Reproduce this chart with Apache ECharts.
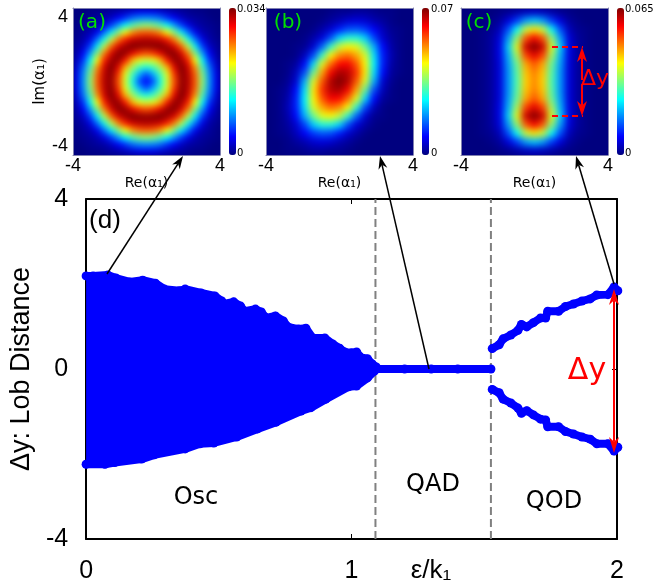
<!DOCTYPE html>
<html>
<head>
<meta charset="utf-8">
<script src="https://cdn.jsdelivr.net/npm/echarts@6/dist/echarts.min.js"></script>
<style>
html,body{margin:0;padding:0;background:#fff;}
#page{position:relative;width:654px;height:584px;overflow:hidden;}
.clip{position:absolute;overflow:hidden;top:8px;width:147px;height:147px;}
.heat{position:absolute;left:-20px;top:-20px;width:187px;height:187px;}
#main{position:absolute;left:0;top:0;width:654px;height:584px;}
</style>
</head>
<body>
<div id="page">
  <div class="clip" style="left:73px"><div class="heat" id="ha" style="filter:blur(3px)"></div></div>
  <div class="clip" style="left:266px"><div class="heat" id="hb" style="filter:blur(3.5px)"></div></div>
  <div class="clip" style="left:461px"><div class="heat" id="hc" style="filter:blur(3.5px)"></div></div>
  <div id="main"></div>
</div>
<script>
// Phase diagram data (eps/k1, dy)
const oscUpper = [[0,2.19],[0.026,2.19],[0.082,2.21],[0.112,2.14],[0.164,2.05],[0.213,2.09],[0.261,2.02],[0.295,1.88],[0.351,1.84],[0.373,1.88],[0.433,1.79],[0.485,1.72],[0.511,1.60],[0.519,1.53],[0.556,1.58],[0.582,1.48],[0.597,1.36],[0.638,1.41],[0.66,1.34],[0.679,1.20],[0.713,1.25],[0.743,1.13],[0.761,0.99],[0.799,0.94],[0.828,0.96],[0.854,0.73],[0.899,0.73],[0.929,0.59],[0.955,0.49],[0.974,0.40],[1.0,0.38],[1.019,0.40],[1.034,0.28],[1.06,0.24],[1.078,0.12],[1.093,0.05]];
const oscLower = [[0,-2.24],[0.071,-2.24],[0.108,-2.20],[0.209,-2.12],[0.257,-2.02],[0.373,-1.88],[0.429,-1.76],[0.481,-1.74],[0.567,-1.60],[0.646,-1.41],[0.716,-1.25],[0.81,-0.99],[0.847,-0.91],[0.903,-0.71],[0.989,-0.42],[1.019,-0.40],[1.06,-0.21],[1.086,-0.05]];
const qadLine = [[1.09,0],[1.2,0],[1.3,0],[1.4,0],[1.525,0]];
const qodUpper = [[1.53,0.48],[1.556,0.57],[1.571,0.71],[1.60,0.80],[1.627,0.91],[1.64,1.05],[1.66,0.99],[1.685,1.09],[1.712,1.20],[1.731,1.20],[1.739,1.36],[1.78,1.36],[1.806,1.47],[1.836,1.53],[1.868,1.60],[1.899,1.65],[1.924,1.74],[1.966,1.75],[1.989,1.93],[2.003,1.84]];
const qodLower = [[1.53,-0.48],[1.556,-0.56],[1.571,-0.71],[1.60,-0.80],[1.627,-0.92],[1.64,-1.04],[1.66,-0.98],[1.685,-1.08],[1.712,-1.18],[1.731,-1.20],[1.739,-1.36],[1.78,-1.36],[1.806,-1.47],[1.836,-1.53],[1.868,-1.60],[1.899,-1.65],[1.924,-1.76],[1.966,-1.76],[1.989,-1.93],[2.003,-1.84]];
const boundaries = [1.09, 1.525];
const xTickLabels = ['0','1','2'];
const colorbarMax = ['0.034','0.07','0.065'];
// Wigner-type density maps, % of panel's maximum, rows top to bottom
const heatA = [
[0,0,1,1,2,3,4,6,8,10,10,10,8,6,4,3,2,1,1,0,0],
[0,1,2,3,4,7,12,17,23,26,27,26,23,17,12,7,4,3,2,1,0],
[1,2,3,5,10,18,28,38,45,50,52,50,45,38,28,18,10,5,3,2,1],
[1,3,5,11,23,36,50,62,73,78,79,78,73,62,50,36,23,11,5,3,1],
[2,4,10,23,39,56,75,85,92,94,95,94,92,85,75,56,39,23,10,4,2],
[3,7,18,36,56,78,91,97,100,99,98,99,100,97,91,78,56,36,18,7,3],
[4,12,28,50,75,91,99,98,90,83,80,83,90,98,99,91,75,50,28,12,4],
[6,17,38,62,85,97,98,86,70,60,58,60,70,86,98,97,85,62,38,17,6],
[8,23,45,73,92,100,90,70,54,44,40,44,54,70,90,100,92,73,45,23,8],
[10,26,50,78,94,99,83,60,44,30,20,30,44,60,83,99,94,78,50,26,10],
[10,27,52,79,95,98,80,58,40,20,12,20,40,58,80,98,95,79,52,27,10],
[10,26,50,78,94,99,83,60,44,30,20,30,44,60,83,99,94,78,50,26,10],
[8,23,45,73,92,100,90,70,54,44,40,44,54,70,90,100,92,73,45,23,8],
[6,17,38,62,85,97,98,86,70,60,58,60,70,86,98,97,85,62,38,17,6],
[4,12,28,50,75,91,99,98,90,83,80,83,90,98,99,91,75,50,28,12,4],
[3,7,18,36,56,78,91,97,100,99,98,99,100,97,91,78,56,36,18,7,3],
[2,4,10,23,39,56,75,85,92,94,95,94,92,85,75,56,39,23,10,4,2],
[1,3,5,11,23,36,50,62,73,78,79,78,73,62,50,36,23,11,5,3,1],
[1,2,3,5,10,18,28,38,45,50,52,50,45,38,28,18,10,5,3,2,1],
[0,1,2,3,4,7,12,17,23,26,27,26,23,17,12,7,4,3,2,1,0],
[0,0,1,1,2,3,4,6,8,10,10,10,8,6,4,3,2,1,1,0,0]];
const heatB = [
[0,0,0,0,0,0,0,1,2,2,3,3,2,1,1,0,0],
[0,0,0,0,0,0,1,3,5,8,9,8,5,3,1,0,0],
[0,0,0,0,0,1,4,8,15,20,21,18,12,6,2,1,0],
[0,0,0,0,1,4,9,20,34,41,41,33,19,8,3,1,0],
[0,0,0,1,2,8,22,42,57,63,60,48,30,13,4,1,0],
[0,0,0,1,6,19,42,63,74,77,71,59,35,15,5,1,0],
[0,0,1,3,13,34,60,77,87,88,79,63,37,15,4,1,0],
[0,0,1,6,20,48,71,88,96,94,83,64,35,13,3,1,0],
[0,0,2,8,30,59,79,95,100,95,79,59,30,8,2,0,0],
[0,1,3,13,35,64,83,94,96,88,71,48,20,6,1,0,0],
[0,1,4,15,37,63,79,88,87,77,60,34,13,3,1,0,0],
[0,1,5,15,35,59,71,77,74,63,42,19,6,1,0,0,0],
[0,1,4,13,30,48,60,63,57,42,22,8,2,1,0,0,0],
[0,1,3,8,19,33,41,41,34,20,9,4,1,0,0,0,0],
[0,1,2,6,12,18,21,20,15,8,4,1,0,0,0,0,0],
[0,0,1,3,5,8,9,8,5,3,1,0,0,0,0,0,0],
[0,0,1,1,2,3,3,2,2,1,0,0,0,0,0,0,0]];
const heatC = [
[0,0,0,0,1,2,4,6,7,6,4,2,1,0,0,0,0],
[0,0,0,1,3,9,18,28,32,28,18,9,3,1,0,0,0],
[0,0,1,2,6,20,38,57,65,57,38,20,6,2,1,0,0],
[0,0,1,3,9,28,52,79,88,79,52,28,9,3,1,0,0],
[0,0,1,3,10,33,60,92,100,92,60,33,10,3,1,0,0],
[0,0,1,3,10,30,54,81,90,81,54,30,10,3,1,0,0],
[0,0,1,3,9,28,48,71,79,71,48,28,9,3,1,0,0],
[0,0,1,3,9,27,46,68,75,68,46,27,9,3,1,0,0],
[0,0,1,3,9,27,45,67,74,67,45,27,9,3,1,0,0],
[0,0,1,3,9,27,46,68,75,68,46,27,9,3,1,0,0],
[0,0,1,3,9,28,48,71,79,71,48,28,9,3,1,0,0],
[0,0,1,3,10,30,54,81,90,81,54,30,10,3,1,0,0],
[0,0,1,3,10,33,60,92,100,92,60,33,10,3,1,0,0],
[0,0,1,3,9,28,52,79,88,79,52,28,9,3,1,0,0],
[0,0,1,2,6,20,38,57,65,57,38,20,6,2,1,0,0],
[0,0,0,1,3,9,18,28,32,28,18,9,3,1,0,0,0],
[0,0,0,0,1,2,4,6,7,6,4,2,1,0,0,0,0]];

const JET = ['#00007f','#0000ff','#007fff','#00ffff','#7fff7f','#ffff00','#ff7f00','#ff0000','#7f0000'];
const BLUE = '#0000ff', RED = '#ff0000', GREEN = '#00e000';
const SANS = 'Liberation Sans', DJ = 'DejaVu Sans';

function drawHeat(id, rows){
  const n = rows.length, cats = rows.map((_, i) => i), d = [];
  rows.forEach((r, j) => r.forEach((v, i) => d.push([i, j, v])));
  const c = echarts.init(document.getElementById(id), null, {renderer:'canvas'});
  c.setOption({
    animation:false, backgroundColor:'#00007f',
    grid:{left:20,right:20,top:20,bottom:20},
    xAxis:{type:'category',data:cats,show:false},
    yAxis:{type:'category',data:cats,show:false,inverse:true},
    visualMap:{show:false,min:0,max:100,inRange:{color:JET}},
    series:[{type:'heatmap',data:d,progressive:0,itemStyle:{borderWidth:0}}]
  });
}
drawHeat('ha', heatA); drawHeat('hb', heatB); drawHeat('hc', heatC);

function arrow(x1,y1,x2,y2,color,lw,len,wid){
  const a = Math.atan2(y2-y1,x2-x1), ca = Math.cos(a), sa = Math.sin(a);
  const p = (l,s)=>[x2-l*ca-s*sa, y2-l*sa+s*ca];
  return [
    {type:'line',z:50,shape:{x1,y1,x2:p(len*0.7,0)[0],y2:p(len*0.7,0)[1]},style:{stroke:color,lineWidth:lw}},
    {type:'polygon',z:50,shape:{points:[[x2,y2],p(len,wid/2),p(len*0.7,0),p(len,-wid/2)]},style:{fill:color}}
  ];
}
function label(text,x,y,font,size,color,rot){
  return {type:'text',z:60,x,y,rotation:rot||0,style:{text,fill:color||'#000',font:size+'px "'+font+'"',textAlign:'center',textVerticalAlign:'middle'}};
}
function dashed(x1,y,x2){
  return {type:'line',z:50,shape:{x1,y1:y,x2,y2:y},style:{stroke:RED,lineWidth:2,lineDash:[6,4]}};
}

const panelX = [73,266,461];
const grids = [{left:81,top:199,width:536,height:340}].concat(panelX.map(l=>({left:l,top:8,width:147,height:147})));
const blackLine = {onZero:false,lineStyle:{color:'#000',width:2}};
const xAxes = [
  {gridIndex:0,type:'value',min:0,max:2,interval:1,axisLine:blackLine,axisTick:{inside:true,length:5,lineStyle:{color:'#000'}},splitLine:{show:false},
   axisLabel:{color:'#000',fontSize:25,fontFamily:SANS,margin:20,formatter:v=>xTickLabels[v]}},
  {gridIndex:0,type:'value',min:0,max:2,interval:1,position:'top',axisLine:blackLine,axisTick:{inside:true,length:5,lineStyle:{color:'#000'}},axisLabel:{show:false},splitLine:{show:false}}
];
const yAxes = [
  {gridIndex:0,type:'value',min:-4,max:4,interval:4,name:'Δy: Lob Distance',nameLocation:'middle',nameGap:47,nameTextStyle:{color:'#000',fontSize:27,fontFamily:SANS},
   axisLine:blackLine,axisTick:{inside:true,length:5,lineStyle:{color:'#000'}},splitLine:{show:false},axisLabel:{color:'#000',fontSize:25,fontFamily:SANS,margin:18}},
  {gridIndex:0,type:'value',min:-4,max:4,interval:4,position:'right',axisLine:blackLine,axisTick:{inside:true,length:5,lineStyle:{color:'#000'}},axisLabel:{show:false},splitLine:{show:false}}
];
panelX.forEach((l,i)=>{
  const g = i+1, frame = {onZero:false,lineStyle:{color:'#8080b0',width:1}};
  xAxes.push({gridIndex:g,type:'value',min:-4,max:4,interval:8,name:'Re(α₁)',nameLocation:'middle',nameGap:11,nameTextStyle:{color:'#000',fontSize:14,fontFamily:DJ,verticalAlign:'middle'},
    axisLine:frame,axisTick:{show:false},splitLine:{show:false},axisLabel:{color:'#000',fontSize:18,fontFamily:SANS,margin:2}});
  xAxes.push({gridIndex:g,type:'value',min:-4,max:4,interval:8,position:'top',axisLine:frame,axisTick:{show:false},axisLabel:{show:false},splitLine:{show:false}});
  yAxes.push({gridIndex:g,type:'value',min:-4,max:4,interval:8,name:i===0?'Im(α₁)':'',nameLocation:'middle',nameGap:8,nameTextStyle:{color:'#000',fontSize:15,fontFamily:DJ},
    axisLine:frame,axisTick:{show:false},splitLine:{show:false},
    axisLabel:{show:i===0,color:'#000',fontSize:18,fontFamily:SANS,margin:5,verticalAlignMaxLabel:'top',verticalAlignMinLabel:'bottom'}});
  yAxes.push({gridIndex:g,type:'value',min:-4,max:4,interval:8,position:'right',axisLine:frame,axisTick:{show:false},axisLabel:{show:false},splitLine:{show:false}});
});

const dots = (data,extra)=>Object.assign({type:'line',data,xAxisIndex:0,yAxisIndex:0,clip:false,symbol:'circle',symbolSize:9,showSymbol:true,showAllSymbol:true,
  itemStyle:{color:BLUE},lineStyle:{color:BLUE,width:8,cap:'round',join:'round'},z:3,silent:true},extra||{});
const series = boundaries.map(b=>({type:'line',data:[[b,-4],[b,4]],xAxisIndex:0,yAxisIndex:0,symbol:'none',clip:false,lineStyle:{color:'#808080',width:2,type:[8,4]},z:2,silent:true}));
series.push(
  dots(oscUpper,{areaStyle:{color:BLUE,opacity:1,origin:0}}),
  dots(oscLower,{areaStyle:{color:BLUE,opacity:1,origin:0}}),
  dots(qadLine),dots(qodUpper),dots(qodLower)
);

const graphics = [].concat(
  colorbarMax.flatMap((t,i)=>{
    const bx = [237,431,625][i];
    return [
      {type:'text',z:60,x:bx,y:9,style:{text:t,fill:'#000',font:'10px "'+DJ+'"',textAlign:'left',textVerticalAlign:'middle'}},
      {type:'text',z:60,x:bx,y:153,style:{text:'0',fill:'#000',font:'10px "'+DJ+'"',textAlign:'left',textVerticalAlign:'middle'}}
    ];
  }),
  [label('(a)',92,23,DJ,20,GREEN),label('(b)',288,23,DJ,20,GREEN),label('(c)',479,23,DJ,20,GREEN),
   label('(d)',105,221,SANS,26),label('Osc',196,498,DJ,24),label('QAD',433,485,DJ,24),label('QOD',554,502,DJ,24),
   label('ε/k₁',431,571,SANS,26),label('Δy',587,371,DJ,30,RED),label('Δy',595,79,DJ,22,RED),
   dashed(552,47,583),dashed(552,116,583)],
  arrow(107,274,183,156,'#000',1.5,13,9),
  arrow(429,369,380,156,'#000',1.5,13,9),
  arrow(614,284,576,156,'#000',1.5,13,9),
  arrow(582,80,582,47,RED,2,15,10),arrow(582,84,582,116,RED,2,15,10),
  arrow(614,370,614,289,RED,2,16,10),arrow(614,370,614,453,RED,2,16,10)
);

const chart = echarts.init(document.getElementById('main'));
chart.setOption({
  animation:false, backgroundColor:'transparent',
  grid:grids, xAxis:xAxes, yAxis:yAxes, series,
  visualMap:[229,422,617].map(left=>({type:'continuous',min:0,max:100,seriesIndex:[],left,top:8,itemWidth:7,itemHeight:147,padding:0,text:null,calculable:false,inRange:{color:JET},hoverLink:false})),
  graphic:{elements:graphics}
});
</script>
</body>
</html>
